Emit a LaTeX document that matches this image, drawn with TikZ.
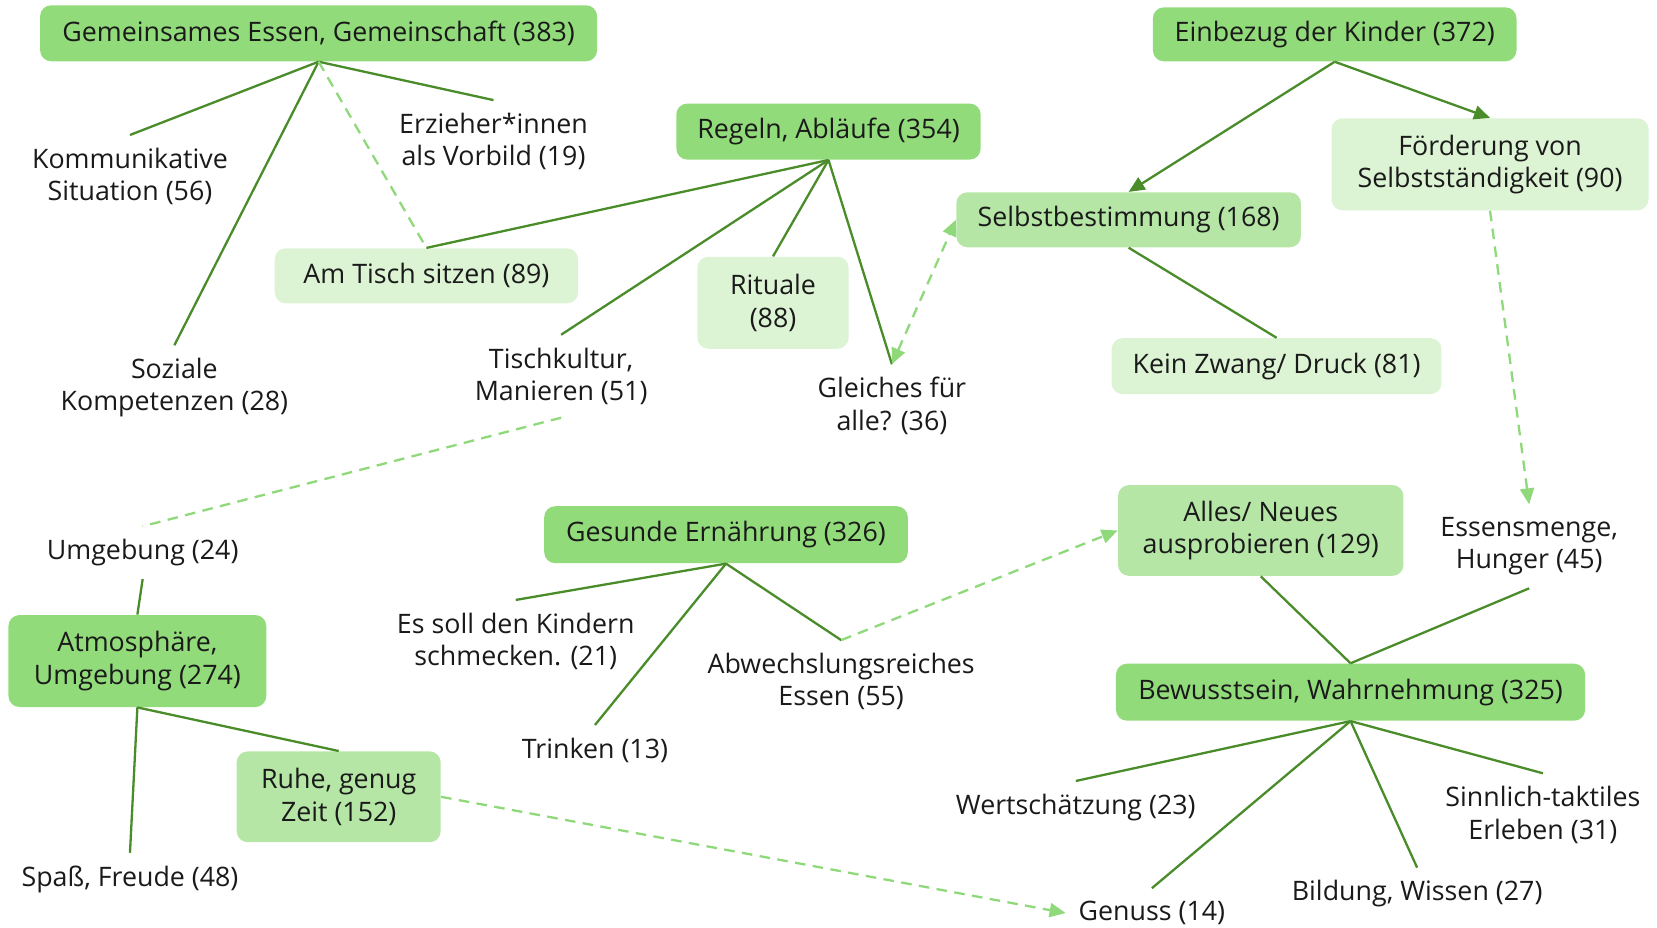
\documentclass[tikz,border=0pt]{standalone}
\usepackage{fontspec}
\setmainfont{Open Sans}
\usetikzlibrary{arrows.meta}
\definecolor{boxdunkel}{HTML}{92DB7A}
\definecolor{boxmittel}{HTML}{B5E6A5}
\definecolor{boxhell}{HTML}{DCF3D4}
\definecolor{liniengruen}{HTML}{4A8C2A}
\definecolor{strichgruen}{HTML}{8FD97A}
\definecolor{schrift}{HTML}{1A1A1A}

\begin{document}
\begin{tikzpicture}[x=0.5284pt,y=-0.5284pt,
  every node/.style={font=\fontsize{13.4}{16.2}\selectfont, text=schrift, align=center},
  hauptbox/.style={fill=boxdunkel, rounded corners=5.5pt, inner sep=0pt, minimum height=28pt},
  mittelbox/.style={hauptbox, fill=boxmittel},
  hellbox/.style={hauptbox, fill=boxhell},
  lbl/.style={inner sep=2pt, outer sep=4.5pt},
  linie/.style={color=liniengruen, line width=1.15pt},
  strich/.style={color=strichgruen, line width=1.15pt, dash pattern=on 5.3pt off 3.7pt},
  spitze/.style={-{Triangle[length=8pt,width=7pt]}},
  doppelspitze/.style={{Triangle[length=8pt,width=7pt]}-{Triangle[length=8pt,width=7pt]}}]
\useasboundingbox (0,0) rectangle (1568,878);

\node [hauptbox, minimum width=278.5pt] (gem) at (301.5,31.5) {Gemeinsames Essen, Gemeinschaft (383)};
\node [hauptbox, minimum width=181.8pt, minimum height=27pt] (einb) at (1263,32.5) {Einbezug der Kinder (372)};
\node [hauptbox, minimum width=152.2pt] (regeln) at (784,124.5) {Regeln, Abläufe (354)};
\node [hauptbox, minimum width=181.8pt, minimum height=28.5pt] (gesund) at (687,506) {Gesunde Ernährung (326)};
\node [hauptbox, minimum width=128.9pt, minimum height=46pt] (atmo) at (130,625.5) {Atmosphäre,\\Umgebung (274)};
\node [hauptbox, minimum width=234.6pt, minimum height=28.5pt] (bewusst) at (1278,655) {Bewusstsein, Wahrnehmung (325)};

\node [mittelbox, minimum width=172.3pt, minimum height=27.5pt] (selbst) at (1068,208) {Selbstbestimmung (168)};
\node [mittelbox, minimum width=102pt, minimum height=45.4pt] (ruhe) at (320.5,754) {Ruhe, genug\\Zeit (152)};
\node [mittelbox, minimum width=142.7pt, minimum height=45.4pt] (alles) at (1193,502) {Alles/ Neues\\ausprobieren (129)};

\node [hellbox, minimum width=158.5pt, minimum height=46pt] (foerd) at (1410,155.5) {Förderung von\\Selbstständigkeit (90)};
\node [hellbox, minimum width=151.7pt, minimum height=27.5pt] (tisch) at (403.5,261) {Am Tisch sitzen (89)};
\node [hellbox, minimum width=75.6pt, minimum height=46pt] (rituale) at (731.5,286.5) {Rituale\\(88)};
\node [hellbox, minimum width=164.9pt] (zwang) at (1208,346.5) {Kein Zwang/ Druck (81)};

\node [lbl] (kommu) at (123,167) {Kommunikative\\Situation (56)};
\node [lbl] (erz) at (467,134) {Erzieher*innen\\als Vorbild (19)};
\node [lbl] (sozial) at (165,367) {Soziale\\Kompetenzen (28)};
\node [lbl] (tischk) at (531,356) {Tischkultur,\\Manieren (51)};
\node [lbl] (gleich) at (844,384) {Gleiches für\\alle? (36)};
\node [lbl] (umgeb) at (135,523) {Umgebung (24)};
\node [lbl] (schmeck) at (488,607) {Es soll den Kindern\\schmecken. (21)};
\node [lbl] (abwechs) at (796,645) {Abwechslungsreiches\\Essen (55)};
\node [lbl] (trinken) at (563,710) {Trinken (13)};
\node [lbl] (spass) at (123,832) {Spaß, Freude (48)};
\node [lbl] (menge) at (1447,517) {Essensmenge,\\Hunger (45)};
\node [lbl] (wert) at (1018,764) {Wertschätzung (23)};
\node [lbl] (sinn) at (1460,771) {Sinnlich-taktiles\\Erleben (31)};
\node [lbl] (bildung) at (1341,846) {Bildung, Wissen (27)};
\node [lbl] (genuss) at (1090,864) {Genuss (14)};

\path [linie]

(gem.south) edge (kommu.north)
(gem.south) edge (sozial.north)
(gem.south) edge (erz.north)

(regeln.south) edge (tisch.north)
(regeln.south) edge (tischk.north)
(regeln.south) edge (rituale.north)
(regeln.south) edge (gleich.north)

(selbst.south) edge (zwang.north)

(umgeb.south) edge (atmo.north)
(atmo.south) edge (spass.north)
(atmo.south) edge (ruhe.north)

(gesund.south) edge (schmeck.north)
(gesund.south) edge (trinken.north)
(gesund.south) edge (abwechs.north)

(alles.south) edge (bewusst.north)
(menge.south) edge (bewusst.north)

(bewusst.south) edge (wert.north)
(bewusst.south) edge (genuss.north)
(bewusst.south) edge (bildung.north)
(bewusst.south) edge (sinn.north)

;

\path [linie, spitze]

(einb.south) edge (selbst.north)
(einb.south) edge (foerd.north)

;

\path [strich]

(gem.south) edge (tisch.north)
(tischk.south) edge (umgeb.north)

;

\path [strich, spitze]

(foerd.south) edge (menge.north)
(abwechs.north) edge (alles.west)
(ruhe.east) edge (genuss.west)

;

\path [strich, doppelspitze]

(gleich.north) edge (selbst.west)

;
\end{tikzpicture}
\end{document}
